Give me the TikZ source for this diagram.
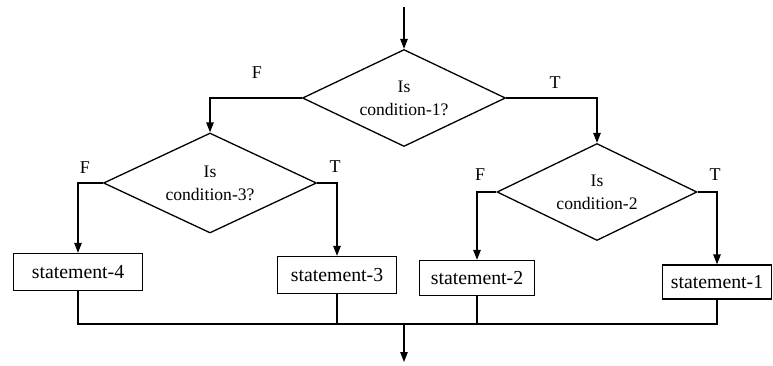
\documentclass[tikz,border=0pt]{standalone}
\usepackage{fontspec}
\setmainfont{Liberation Serif}
\usetikzlibrary{shapes.geometric,arrows.meta}

\tikzset{
  flow/.style={line width=1.3pt, draw=black},
  arr/.style={flow, -{Triangle[length=10pt,width=7.5pt]}},
  decision/.style={diamond, aspect=2.2, flow, inner sep=0pt, align=center,
    font=\fontsize{17.6}{23}\selectfont},
  stmt/.style={rectangle, flow, inner sep=0pt, minimum height=37pt,
    font=\fontsize{19.8}{22}\selectfont},
  branch/.style={font=\fontsize{18}{20}\selectfont}
}

\begin{document}
\begin{tikzpicture}[x=1pt,y=-1pt]
  \useasboundingbox (0,0) rectangle (773,365);

  % decisions
  \node[decision, minimum width=203pt, minimum height=97pt] (d1) at (404,98) {Is\\condition-1?};
  \node[decision, minimum width=213pt, minimum height=100pt] (d3) at (210,183) {Is\\condition-3?};
  \node[decision, minimum width=200pt, minimum height=97pt] (d2) at (597,192) {Is\\condition-2};

  % statements
  \node[stmt, minimum width=129pt] (s4) at (78,272) {statement-4};
  \node[stmt, minimum width=119pt] (s3) at (337,275) {statement-3};
  \node[stmt, minimum width=115pt, minimum height=35pt] (s2) at (477,278) {statement-2};
  \node[stmt, minimum width=109pt, minimum height=34pt] (s1) at (717,282) {statement-1};

  % branch labels
  \node[branch] (f1) at (257,73) {F};
  \node[branch] (t1) at (555,83) {T};
  \node[branch] (f3) at (85,168) {F};
  \node[branch] (t3) at (335,167) {T};
  \node[branch] (f2) at (480,175) {F};
  \node[branch] (t2) at (715,175) {T};

  % entry and exit points
  \coordinate (start) at (404,7);
  \coordinate (join) at (404,324);
  \coordinate (finish) at (404,362);

  % connectors
  \draw[arr] (start) -- (d1.north);
  \draw[arr] (d1.west) -| (d3.north);
  \draw[arr] (d1.east) -| (d2.north);
  \draw[arr] (d3.west) -| (s4.north);
  \draw[arr] (d3.east) -| (s3.north);
  \draw[arr] (d2.west) -| (s2.north);
  \draw[arr] (d2.east) -| (s1.north);

  \draw[flow] (s4.south) |- (join) -| (s1.south);
  \draw[flow] (s3.south) -- (s3.south |- join);
  \draw[flow] (s2.south) -- (s2.south |- join);
  \draw[arr] (join) -- (finish);
\end{tikzpicture}
\end{document}
